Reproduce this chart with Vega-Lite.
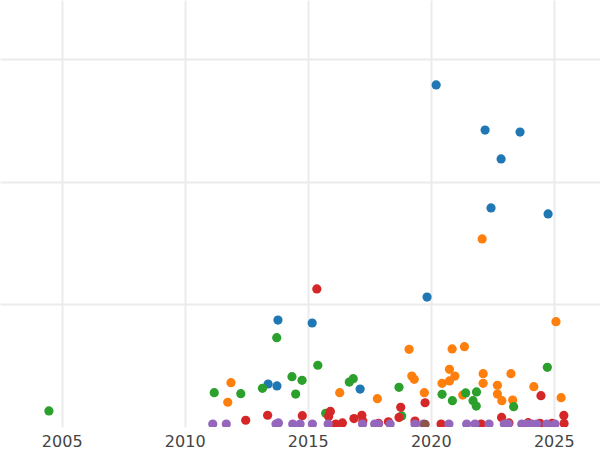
{
  "$schema": "https://vega.github.io/schema/vega-lite/v6.json",
  "width": 600,
  "height": 427,
  "autosize": "none",
  "padding": {"left": 0, "top": 0, "right": 0, "bottom": 23},
  "background": "white",
  "config": {"view": {"stroke": null}},
  "datasets": {
    "pts": [
      {"year": 2020.22, "value": 279.2, "group": "A"},
      {"year": 2022.21, "value": 242.4, "group": "A"},
      {"year": 2023.63, "value": 240.8, "group": "A"},
      {"year": 2022.86, "value": 218.8, "group": "A"},
      {"year": 2022.45, "value": 178.8, "group": "A"},
      {"year": 2024.77, "value": 173.9, "group": "A"},
      {"year": 2019.85, "value": 106.1, "group": "A"},
      {"year": 2013.79, "value": 87.3, "group": "A"},
      {"year": 2015.18, "value": 84.9, "group": "A"},
      {"year": 2013.39, "value": 35.1, "group": "A"},
      {"year": 2013.75, "value": 33.5, "group": "A"},
      {"year": 2017.13, "value": 31.0, "group": "A"},

      {"year": 2011.88, "value": 36.2, "group": "B"},
      {"year": 2011.75, "value": 20.2, "group": "B"},
      {"year": 2016.30, "value": 28.0, "group": "B"},
      {"year": 2017.83, "value": 23.1, "group": "B"},
      {"year": 2019.12, "value": 63.4, "group": "B"},
      {"year": 2019.23, "value": 41.6, "group": "B"},
      {"year": 2019.33, "value": 38.9, "group": "B"},
      {"year": 2019.74, "value": 28.0, "group": "B"},
      {"year": 2020.46, "value": 35.7, "group": "B"},
      {"year": 2020.76, "value": 47.1, "group": "B"},
      {"year": 2020.76, "value": 37.6, "group": "B"},
      {"year": 2020.87, "value": 63.7, "group": "B"},
      {"year": 2020.98, "value": 41.6, "group": "B"},
      {"year": 2021.30, "value": 26.1, "group": "B"},
      {"year": 2021.37, "value": 65.6, "group": "B"},
      {"year": 2022.09, "value": 153.5, "group": "B"},
      {"year": 2022.13, "value": 43.5, "group": "B"},
      {"year": 2022.13, "value": 35.7, "group": "B"},
      {"year": 2022.71, "value": 34.0, "group": "B"},
      {"year": 2022.71, "value": 26.9, "group": "B"},
      {"year": 2022.89, "value": 21.5, "group": "B"},
      {"year": 2023.26, "value": 43.5, "group": "B"},
      {"year": 2023.33, "value": 22.0, "group": "B"},
      {"year": 2024.19, "value": 32.9, "group": "B"},
      {"year": 2025.09, "value": 86.0, "group": "B"},
      {"year": 2025.30, "value": 23.9, "group": "B"},

      {"year": 2004.48, "value": 13.1, "group": "C"},
      {"year": 2011.20, "value": 28.0, "group": "C"},
      {"year": 2012.28, "value": 27.2, "group": "C"},
      {"year": 2013.16, "value": 31.6, "group": "C"},
      {"year": 2013.74, "value": 72.9, "group": "C"},
      {"year": 2014.36, "value": 41.1, "group": "C"},
      {"year": 2014.51, "value": 26.9, "group": "C"},
      {"year": 2014.77, "value": 38.1, "group": "C"},
      {"year": 2015.41, "value": 50.4, "group": "C"},
      {"year": 2015.73, "value": 11.2, "group": "C"},
      {"year": 2016.69, "value": 36.7, "group": "C"},
      {"year": 2016.85, "value": 39.4, "group": "C"},
      {"year": 2018.71, "value": 32.4, "group": "C"},
      {"year": 2018.82, "value": 9.0, "group": "C"},
      {"year": 2020.46, "value": 26.7, "group": "C"},
      {"year": 2020.88, "value": 21.5, "group": "C"},
      {"year": 2021.42, "value": 27.8, "group": "C"},
      {"year": 2021.86, "value": 28.6, "group": "C"},
      {"year": 2021.72, "value": 21.5, "group": "C"},
      {"year": 2021.85, "value": 17.1, "group": "C"},
      {"year": 2023.37, "value": 16.6, "group": "C"},
      {"year": 2024.74, "value": 48.7, "group": "C"},

      {"year": 2012.48, "value": 5.5, "group": "D"},
      {"year": 2013.37, "value": 9.6, "group": "D"},
      {"year": 2014.78, "value": 9.2, "group": "D"},
      {"year": 2015.37, "value": 112.7, "group": "D"},
      {"year": 2015.85, "value": 8.6, "group": "D"},
      {"year": 2015.92, "value": 12.7, "group": "D"},
      {"year": 2016.14, "value": 2.4, "group": "D"},
      {"year": 2016.41, "value": 3.3, "group": "D"},
      {"year": 2016.88, "value": 6.9, "group": "D"},
      {"year": 2017.20, "value": 9.6, "group": "D"},
      {"year": 2017.24, "value": 4.9, "group": "D"},
      {"year": 2017.88, "value": 3.0, "group": "D"},
      {"year": 2018.28, "value": 4.2, "group": "D"},
      {"year": 2018.71, "value": 7.8, "group": "D"},
      {"year": 2018.78, "value": 16.1, "group": "D"},
      {"year": 2019.36, "value": 4.9, "group": "D"},
      {"year": 2019.77, "value": 19.8, "group": "D"},
      {"year": 2020.42, "value": 2.4, "group": "D"},
      {"year": 2022.05, "value": 2.4, "group": "D"},
      {"year": 2022.88, "value": 7.8, "group": "D"},
      {"year": 2023.18, "value": 3.3, "group": "D"},
      {"year": 2023.96, "value": 3.5, "group": "D"},
      {"year": 2024.44, "value": 3.0, "group": "D"},
      {"year": 2024.48, "value": 25.6, "group": "D"},
      {"year": 2024.93, "value": 3.0, "group": "D"},
      {"year": 2025.41, "value": 9.4, "group": "D"},
      {"year": 2025.42, "value": 2.9, "group": "D"},

      {"year": 2011.14, "value": 2.4, "group": "E"},
      {"year": 2011.69, "value": 2.4, "group": "E"},
      {"year": 2013.71, "value": 2.4, "group": "E"},
      {"year": 2013.81, "value": 3.3, "group": "E"},
      {"year": 2014.39, "value": 2.4, "group": "E"},
      {"year": 2014.69, "value": 2.4, "group": "E"},
      {"year": 2015.19, "value": 2.4, "group": "E"},
      {"year": 2015.83, "value": 2.4, "group": "E"},
      {"year": 2017.23, "value": 2.4, "group": "E"},
      {"year": 2017.72, "value": 2.4, "group": "E"},
      {"year": 2017.87, "value": 2.4, "group": "E"},
      {"year": 2018.35, "value": 2.4, "group": "E"},
      {"year": 2019.36, "value": 2.4, "group": "E"},
      {"year": 2019.70, "value": 2.4, "group": "E"},
      {"year": 2020.74, "value": 2.4, "group": "E"},
      {"year": 2021.46, "value": 2.4, "group": "E"},
      {"year": 2021.80, "value": 2.4, "group": "E"},
      {"year": 2022.37, "value": 2.4, "group": "E"},
      {"year": 2022.99, "value": 2.4, "group": "E"},
      {"year": 2023.15, "value": 2.4, "group": "E"},
      {"year": 2023.70, "value": 2.4, "group": "E"},
      {"year": 2023.92, "value": 2.4, "group": "E"},
      {"year": 2024.12, "value": 2.4, "group": "E"},
      {"year": 2024.31, "value": 2.4, "group": "E"},
      {"year": 2024.72, "value": 2.4, "group": "E"},
      {"year": 2025.05, "value": 2.4, "group": "E"},

      {"year": 2019.77, "value": 2.2, "group": "F"}
    ]
  },
  "data": {"name": "pts"},
  "mark": {"type": "circle", "size": 85, "opacity": 1, "clip": true},
  "encoding": {
    "x": {
      "field": "year",
      "type": "quantitative",
      "scale": {"domain": [2002.492, 2026.88], "nice": false, "zero": false},
      "axis": {
        "title": null,
        "values": [2005, 2010, 2015, 2020, 2025],
        "format": "d",
        "domain": false,
        "ticks": false,
        "labelFont": "DejaVu Sans",
        "labelFontSize": 16,
        "labelColor": "#444444",
        "labelPadding": 6,
        "gridColor": "#ebebeb",
        "gridWidth": 2
      }
    },
    "y": {
      "field": "value",
      "type": "quantitative",
      "scale": {"domain": [0, 348.57], "nice": false},
      "axis": {
        "title": null,
        "values": [100, 200, 300],
        "labels": false,
        "domain": false,
        "ticks": false,
        "gridColor": "#ebebeb",
        "gridWidth": 2
      }
    },
    "color": {
      "field": "group",
      "type": "nominal",
      "scale": {"scheme": "category10"},
      "legend": null
    }
  }
}
